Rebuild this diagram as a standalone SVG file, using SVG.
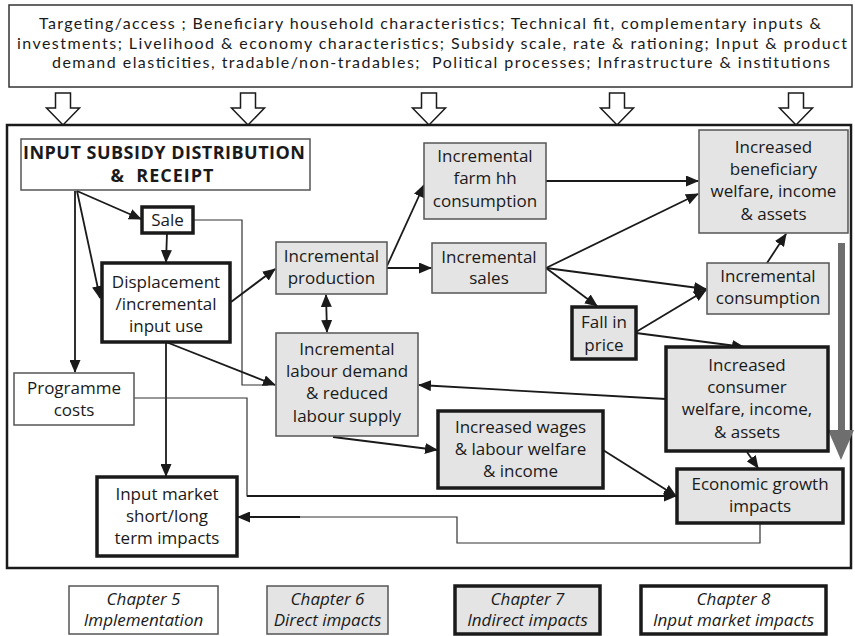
<svg xmlns="http://www.w3.org/2000/svg" width="855" height="636" viewBox="0 0 855 636">
<defs>
<marker id="ah" markerUnits="userSpaceOnUse" markerWidth="13" markerHeight="11" refX="12" refY="5.5" orient="auto-start-reverse"><path d="M0,0 L13,5.5 L0,11 z" fill="#1a1a1a"/></marker>
<style>
.t{font-family:"Open Sans","Liberation Sans",sans-serif;font-size:17px;fill:#1a1a1a;text-anchor:middle}
.b{font-weight:bold;font-size:18px;white-space:pre}
.i{font-style:italic}
.top{font-family:Lato,"Open Sans","Liberation Sans",sans-serif;font-size:16px;fill:#1a1a1a;white-space:pre}
.g{fill:#e4e4e4;stroke:#555;stroke-width:1.5}
.w{fill:#fff;stroke:#555;stroke-width:1.5}
.gk{fill:#e4e4e4;stroke:#1a1a1a;stroke-width:3.5}
.wk{fill:#fff;stroke:#1a1a1a;stroke-width:3.5}
.c{stroke:#1a1a1a;stroke-width:1.8;fill:none;marker-end:url(#ah)}
.cl{stroke:#333;stroke-width:1.2;fill:none}
.ba{fill:#fff;stroke:#1a1a1a;stroke-width:1.5}
</style>
</defs>
<rect width="855" height="636" fill="#fff"/>
<g id="factors">
<rect x="9" y="5" width="843" height="82" fill="#fff" stroke="#333" stroke-width="1.5"/>
<text class="top" x="39" y="29" textLength="782" lengthAdjust="spacing">Targeting/access ; Beneficiary household characteristics; Technical fit, complementary inputs &amp;</text>
<text class="top" x="17" y="48.5" textLength="830" lengthAdjust="spacing">investments; Livelihood &amp; economy characteristics; Subsidy scale, rate &amp; rationing; Input &amp; product</text>
<text class="top" x="52" y="68" textLength="778" lengthAdjust="spacing">demand elasticities, tradable/non-tradables;  Political processes; Infrastructure &amp; institutions</text>
</g>
<g id="block-arrows">
<polygon class="ba" points="55.5,93 70.5,93 70.5,108 79.5,108 63,125 46.5,108 55.5,108"/>
<polygon class="ba" points="240.5,93 255.5,93 255.5,108 264.5,108 248,125 231.5,108 240.5,108"/>
<polygon class="ba" points="421.5,93 436.5,93 436.5,108 445.5,108 429,125 412.5,108 421.5,108"/>
<polygon class="ba" points="609.5,93 624.5,93 624.5,108 633.5,108 617,125 600.5,108 609.5,108"/>
<polygon class="ba" points="788.5,93 803.5,93 803.5,108 812.5,108 796,125 779.5,108 788.5,108"/>
</g>
<rect id="frame" x="7" y="125" width="844" height="443" fill="none" stroke="#1a1a1a" stroke-width="2.5"/>
<g id="growth-arrow">
<rect x="838" y="243" width="7" height="188" fill="#6e6e6e"/>
<polygon points="828,430 854,430 841,460" fill="#6e6e6e"/>
</g>
<g id="connectors">
<path class="c" d="M77,191 L141,219"/>
<path class="c" d="M77,191 L100,298"/>
<path class="c" d="M75,191 L75,372"/>
<path class="c" d="M167,233 L166,262"/>
<path class="cl" d="M193,220 L242,220 L242,385 L268,385"/>
<path class="c" d="M166,342 L275,385"/>
<path class="c" d="M166,342 L166,476"/>
<path class="c" d="M231,302 L275,269"/>
<path class="cl" d="M134,398 L247,398 L247,496 L670,496"/>
<path class="c" d="M247,496 L676,496"/>
<path class="cl" d="M760,523 L760,543 L457,543 L457,517 L245,517"/>
<path class="c" d="M300,517 L238,517"/>
<path class="c" d="M387,266 L424,185"/>
<path class="c" d="M387,268 L431,268"/>
<path class="c" style="marker-start:url(#ah)" d="M326,295 L327,332"/>
<path class="c" d="M546,181 L698,181"/>
<path class="c" d="M546,268 L698,194"/>
<path class="c" d="M546,268 L706,289"/>
<path class="c" d="M546,268 L597,306"/>
<path class="c" d="M636,332 L706,290"/>
<path class="c" d="M636,333 L744,347"/>
<path class="c" d="M767,263 L786,234"/>
<path class="c" d="M666,399 L419,385"/>
<path class="c" d="M333,437 L437,450"/>
<path class="c" d="M603,450 L676,496"/>
<path class="c" d="M747,452 L758,468"/>
</g>
<g id="n-input"><rect class="w" x="21" y="139" width="289" height="51"/><text class="t b" x="164" y="159" textLength="282" lengthAdjust="spacing">INPUT SUBSIDY DISTRIBUTION</text><text class="t b" x="162" y="182" textLength="103" lengthAdjust="spacing">&amp;  RECEIPT</text></g>
<g id="n-sale"><rect class="wk" x="142" y="207" width="51" height="26"/><text class="t" x="167.5" y="226">Sale</text></g>
<g id="n-disp"><rect class="wk" x="102" y="263" width="128" height="79"/><text class="t" x="166" y="288">Displacement</text><text class="t" x="166" y="310">/incremental</text><text class="t" x="166" y="332">input use</text></g>
<g id="n-prog"><rect class="w" x="14" y="373" width="120" height="52"/><text class="t" x="74" y="394">Programme</text><text class="t" x="74" y="416">costs</text></g>
<g id="n-imkt"><rect class="wk" x="97" y="477" width="140" height="79"/><text class="t" x="167" y="500">Input market</text><text class="t" x="167" y="522">short/long</text><text class="t" x="167" y="544">term impacts</text></g>
<g id="n-prod"><rect class="g" x="276" y="242" width="111" height="52"/><text class="t" x="331.5" y="262">Incremental</text><text class="t" x="331.5" y="284">production</text></g>
<g id="n-farm"><rect class="g" x="424" y="143" width="122" height="76"/><text class="t" x="485" y="162">Incremental</text><text class="t" x="485" y="184">farm hh</text><text class="t" x="485" y="207">consumption</text></g>
<g id="n-sales"><rect class="g" x="432" y="243" width="114" height="50"/><text class="t" x="489" y="263">Incremental</text><text class="t" x="489" y="284">sales</text></g>
<g id="n-labour"><rect class="g" x="276" y="333" width="142" height="103"/><text class="t" x="347" y="355">Incremental</text><text class="t" x="347" y="377">labour demand</text><text class="t" x="347" y="399">&amp; reduced</text><text class="t" x="347" y="422">labour supply</text></g>
<g id="n-benef"><rect class="g" x="699" y="130" width="149" height="103"/><text class="t" x="773.5" y="153">Increased</text><text class="t" x="773.5" y="175">beneficiary</text><text class="t" x="773.5" y="197">welfare, income</text><text class="t" x="773.5" y="220">&amp; assets</text></g>
<g id="n-cons"><rect class="g" x="707" y="263" width="122" height="51"/><text class="t" x="768" y="282">Incremental</text><text class="t" x="768" y="304">consumption</text></g>
<g id="n-fall"><rect class="gk" x="572" y="307" width="64" height="52"/><text class="t" x="604" y="328">Fall in</text><text class="t" x="604" y="351">price</text></g>
<g id="n-consumer"><rect class="gk" x="666" y="347" width="162" height="104"/><text class="t" x="747" y="371">Increased</text><text class="t" x="747" y="393">consumer</text><text class="t" x="747" y="415">welfare, income,</text><text class="t" x="747" y="438">&amp; assets</text></g>
<g id="n-wages"><rect class="gk" x="438" y="411" width="165" height="77"/><text class="t" x="520.5" y="433">Increased wages</text><text class="t" x="520.5" y="455">&amp; labour welfare</text><text class="t" x="520.5" y="477">&amp; income</text></g>
<g id="n-econ"><rect class="gk" x="677" y="469" width="166" height="54"/><text class="t" x="760" y="490">Economic growth</text><text class="t" x="760" y="512">impacts</text></g>
<g id="legend">
<g id="ch5"><rect class="w" x="69" y="586" width="149" height="48"/><text class="t i" x="143.5" y="605">Chapter 5</text><text class="t i" x="143.5" y="626">Implementation</text></g>
<g id="ch6"><rect class="g" x="267" y="586" width="121" height="48"/><text class="t i" x="327.5" y="605">Chapter 6</text><text class="t i" x="327.5" y="626">Direct impacts</text></g>
<g id="ch7"><rect class="gk" x="455" y="586" width="145" height="48"/><text class="t i" x="527.5" y="605">Chapter 7</text><text class="t i" x="527.5" y="626">Indirect impacts</text></g>
<g id="ch8"><rect class="wk" x="641" y="586" width="185" height="48"/><text class="t i" x="733.5" y="605">Chapter 8</text><text class="t i" x="733.5" y="626">Input market impacts</text></g>
</g>
</svg>
